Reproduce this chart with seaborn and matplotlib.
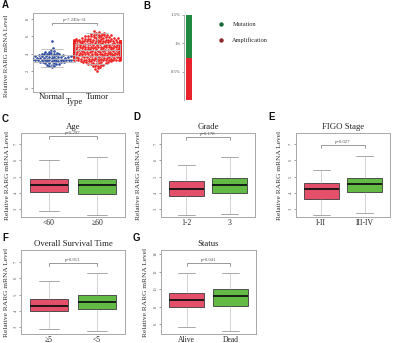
import numpy as np
import pandas as pd
import matplotlib
matplotlib.use("Agg")
import matplotlib.pyplot as plt
from matplotlib.lines import Line2D
import seaborn as sns

normal_levels = [2.4, 2.5, 2.6, 2.7, 2.8, 2.9, 3.0, 3.1, 3.2, 3.3, 3.4, 3.5,
                 3.6, 3.7, 3.8, 3.9, 4.0, 4.1, 4.2, 4.3, 4.4, 4.6, 5.5]
normal_counts = [1, 1, 1, 2, 2, 3, 4, 4, 5, 6, 6, 5, 5, 4, 4, 3, 3, 2, 2, 1, 1, 1, 1]
tumor_levels = [2.0, 2.2, 2.3, 2.4, 2.5, 2.6, 2.7, 2.8, 2.9, 3.0, 3.1, 3.2, 3.3,
                3.4, 3.5, 3.6, 3.7, 3.8, 3.9, 4.0, 4.1, 4.2, 4.3, 4.4, 4.5, 4.6,
                4.7, 4.8, 4.9, 5.0, 5.1, 5.2, 5.3, 5.4, 5.5, 5.6, 5.7, 5.8, 5.9,
                6.0, 6.1, 6.2, 6.3, 6.4, 6.5, 6.6]
tumor_counts = [1, 1, 1, 1, 1, 2, 2, 3, 3, 4, 5, 6, 8, 10, 12, 15, 18, 21, 24,
                26, 28, 29, 30, 30, 30, 29, 28, 26, 24, 22, 19, 16, 13, 11, 9,
                8, 6, 5, 4, 4, 3, 3, 2, 2, 1, 1]
# five numbers: lower whisker, Q1, median, Q3, upper whisker
normal_box = [2.4, 3.0, 3.4, 3.86, 4.5]
tumor_box = [2.8, 3.74, 4.45, 5.1, 6.4]
type_labels = ["Normal", "Tumor"]
p_type = "p=7.249e-31"

# ---- panel B: alteration frequency (%)
alter_kinds = ["Mutation", "Amplification"]
alter_pct = [0.76, 0.74]

# ---- panels C-G: clinical subgroups (five numbers per group)
age_groups = ["<60", "\u226560"]
age_stats = [[2.9, 4.05, 4.5, 4.86, 6.0], [2.65, 3.95, 4.45, 4.85, 6.2]]
grade_groups = ["1-2", "3"]
grade_stats = [[2.65, 3.8, 4.25, 4.75, 5.7], [2.7, 4.0, 4.5, 4.9, 6.2]]
figo_groups = ["I-II", "III-IV"]
figo_stats = [[2.63, 3.62, 4.23, 4.6, 5.4], [2.75, 4.05, 4.54, 4.9, 6.26]]
os_groups = ["\u22655", "<5"]
os_stats = [[2.88, 3.98, 4.29, 4.72, 5.83], [2.75, 4.11, 4.54, 4.97, 6.32]]
status_groups = ["Alive", "Dead"]
status_stats = [[5.66, 7.94, 8.74, 9.54, 11.83], [5.2, 8.06, 9.2, 10.0, 11.83]]

pink = "#e4506a"
green = "#63bb46"

sns.set_theme(style="white")
plt.rcParams["font.family"] = ["Liberation Serif", "DejaVu Serif"]

W, H = 400, 343
fig = plt.figure(figsize=(W / 100, H / 100), dpi=100)


def px_axes(l, t, r, b):
    return fig.add_axes([l / W, 1 - b / H, (r - l) / W, (b - t) / H])


def frame(ax):
    for s in ax.spines.values():
        s.set_color("#a8a8a8")
        s.set_linewidth(0.7)
    ax.tick_params(axis="y", left=True, labelsize=3.3, length=1.5, width=0.5,
                   color="#777777", labelcolor="#555555", pad=1, labelrotation=90)
    for lab in ax.get_yticklabels():
        lab.set_verticalalignment("center")


def bracket(ax, x0, x1, y, drop, text):
    ax.plot([x0, x0, x1, x1], [y - drop, y, y, y - drop], color="#8a8a8a", lw=0.6)
    ax.text((x0 + x1) / 2, y + drop * 0.4, text, ha="center", va="bottom",
            fontsize=3.4, color="#555555")


def ylab(ax, box, cx, size=5.3, ypos=0.5):
    l, t, r, b = box
    ax.set_ylabel("Relative RARG mRNA Level", fontsize=size, color="#333333")
    ax.yaxis.set_label_coords((cx + 3.3 - l) / (r - l), ypos)


# ---------------- A
boxA = (33, 13, 123, 92)
axA = px_axes(*boxA)
gap = 0.78
normal_vals = np.repeat(normal_levels, normal_counts)
tumor_vals = np.repeat(tumor_levels, tumor_counts)
sns.swarmplot(x=np.zeros(len(normal_vals)), y=normal_vals, native_scale=True,
              orient="x", color="#2f4ea0", size=1.9, linewidth=0,
              warn_thresh=1, ax=axA)
sns.swarmplot(x=np.full(len(tumor_vals), gap), y=tumor_vals, native_scale=True,
              orient="x", color="#ee2222", size=1.9, linewidth=0,
              warn_thresh=1, ax=axA)
box_df = pd.DataFrame({"pos": np.repeat([0.0, gap], 5),
                       "value": normal_box + tumor_box})
sns.boxplot(data=box_df, x="pos", y="value", native_scale=True, orient="x",
            width=1.0, whis=(0, 100), fill=False, color="#b8b8b8",
            linewidth=0.6, showfliers=False, ax=axA)
for art in axA.lines + axA.patches:
    art.set_zorder(5)
axA.set_xlim(-0.33, gap + 0.45)
axA.set_ylim(-0.46, 8.7)
axA.set_yticks([0, 2, 4, 6, 8])
axA.set_xticks([0, gap])
axA.set_xticklabels(type_labels)
axA.tick_params(axis="x", length=0, pad=0.5, labelsize=6.2, labelcolor="#222222")
frame(axA)
bracket(axA, 0, gap, 7.57, 0.25, p_type)
axA.set_xlabel("Type", fontsize=6.2, color="#222222")
axA.xaxis.set_label_coords((74 - 33) / 90, -0.07)
ylab(axA, boxA, 6, size=5.0, ypos=0.46)

# ---------------- B
boxB = (184, 15, 192, 100)
axB = px_axes(*boxB)
sns.barplot(x=["RARG"], y=[sum(alter_pct)], color="#1f8a3f", width=1,
            saturation=1, linewidth=0, ax=axB)
sns.barplot(x=["RARG"], y=[alter_pct[1]], color="#e8232b", width=1,
            saturation=1, linewidth=0, ax=axB)
axB.set_xlim(-0.8, 0.5)
axB.set_ylim(0, 1.5)
axB.set_yticks([0.5, 1.0, 1.5])
axB.set_yticklabels(["0.5%", "1%", "1.5%"])
axB.set_xticks([])
axB.set_xlabel("")
axB.set_ylabel("")
for side in ["top", "right", "bottom"]:
    axB.spines[side].set_visible(False)
axB.spines["left"].set_color("#9a9a9a")
axB.spines["left"].set_linewidth(0.6)
axB.tick_params(axis="y", left=True, labelsize=3.4, length=1.5, width=0.5,
                color="#888888", labelcolor="#555555", pad=1)
handles = [Line2D([], [], ls="", marker="o", ms=2.2, color=c)
           for c in ["#1b6b3a", "#8e2a2c"]]
fig.legend(handles, alter_kinds, loc="upper left",
           bbox_to_anchor=(219 / W, 1 - 22 / H), frameon=False, fontsize=4.6,
           handlelength=0.6, handletextpad=1.5, labelspacing=1.55,
           borderpad=0, borderaxespad=0)


# ---------------- C-G
def box_panel(box, title, groups, stats, pval, bar_y, ylim, yticks, lab_cx):
    ax = px_axes(*box)
    df = pd.DataFrame({"group": np.repeat(groups, 5),
                       "value": stats[0] + stats[1]})
    sns.boxplot(data=df, x="group", y="value", hue="group",
                palette=[pink, green], legend=False, whis=(0, 100), width=0.8,
                saturation=1, linecolor="#3a3a3a", linewidth=0.6,
                showfliers=False,
                medianprops=dict(color="#111111", linewidth=1.3),
                whiskerprops=dict(color="#9a9a9a", linestyle=(0, (1.2, 1.2)),
                                  linewidth=0.6),
                capprops=dict(color="#9a9a9a", linewidth=0.6), ax=ax)
    ax.set_xlim(-0.58, 1.58)
    ax.set_ylim(*ylim)
    ax.set_yticks(yticks)
    ax.set_xlabel("")
    ax.tick_params(axis="x", length=0, pad=1.5, labelsize=5.5,
                   labelcolor="#222222")
    frame(ax)
    span = ylim[1] - ylim[0]
    bracket(ax, 0, 1, bar_y, span * 0.03, pval)
    ax.set_title(title, fontsize=6.3, color="#222222", pad=3)
    ylab(ax, box, lab_cx)
    return ax


box_panel((21, 133, 125, 217), "Age", age_groups, age_stats, "p=0.297",
          7.49, (2.51, 7.68), [3, 4, 5, 6, 7], 7)
box_panel((161, 133, 255, 217), "Grade", grade_groups, grade_stats, "p=0.178",
          7.43, (2.51, 7.68), [3, 4, 5, 6, 7], 138)
box_panel((296, 133, 390, 217), "FIGO Stage", figo_groups, figo_stats,
          "p=0.027", 6.94, (2.51, 7.68), [3, 4, 5, 6, 7], 279)
box_panel((21, 250, 125, 334), "Overall Survival Time", os_groups, os_stats,
          "p=0.013", 6.94, (2.57, 7.74), [3, 4, 5, 6, 7], 6)
box_panel((161, 250, 256, 334), "Status", status_groups, status_stats,
          "p=0.041", 12.97, (4.86, 14.46), [6, 8, 10, 12, 14], 145)

# panel letters
for letter, x, y in [("A", 2, 5), ("B", 143, 6), ("C", 2, 119), ("D", 133, 117),
                     ("E", 268, 117), ("F", 2, 238), ("G", 133, 238)]:
    fig.text(x / W, 1 - y / H, letter, fontsize=7, fontweight="bold",
             family="Liberation Sans", color="#111111", va="center")

fig.savefig("out.png", dpi=100)
